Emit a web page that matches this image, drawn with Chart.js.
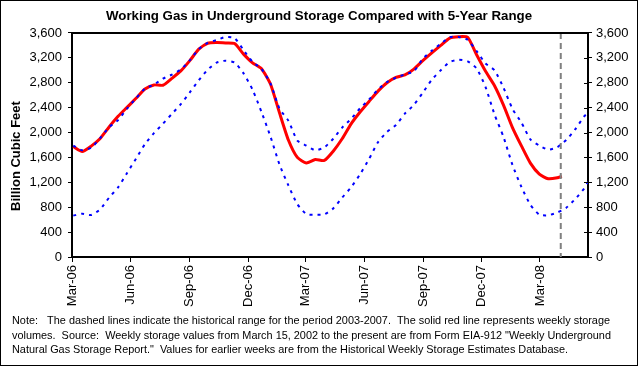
<!DOCTYPE html>
<html>
<head>
<meta charset="utf-8">
<script src="https://cdn.jsdelivr.net/npm/chart.js@4.4.1/dist/chart.umd.min.js"></script>
<style>
  html, body { margin: 0; padding: 0; background: #fff; }
  #wrap { width: 638px; height: 366px; }
</style>
</head>
<body>
<div id="wrap"><canvas id="gasChart" width="638" height="366"></canvas></div>
<script>
// report weeks (every other week, plus the last weeks of the range)
const weekDates = [
  '2006-03-03','2006-03-17','2006-03-31','2006-04-14','2006-04-28','2006-05-12','2006-05-26','2006-06-09','2006-06-23','2006-07-07',
  '2006-07-21','2006-08-04','2006-08-18','2006-09-01','2006-09-15','2006-09-29','2006-10-13','2006-10-27','2006-11-10','2006-11-24',
  '2006-12-08','2006-12-22','2007-01-05','2007-01-19','2007-02-02','2007-02-16','2007-03-02','2007-03-16','2007-03-30','2007-04-13',
  '2007-04-27','2007-05-11','2007-05-25','2007-06-08','2007-06-22','2007-07-06','2007-07-20','2007-08-03','2007-08-17','2007-08-31',
  '2007-09-14','2007-09-28','2007-10-12','2007-10-26','2007-11-09','2007-11-23','2007-12-07','2007-12-21','2008-01-04','2008-01-18',
  '2008-02-01','2008-02-15','2008-02-29','2008-03-14','2008-03-28','2008-04-04','2008-04-11','2008-04-25','2008-05-09','2008-05-15'
];

// working gas, billion cubic feet
const storage = [
  1775,1695,1782,1905,2090,2260,2405,2550,2700,2765,
  2760,2870,2990,3155,3340,3435,3445,3440,3430,3260,
  3120,3025,2780,2320,1880,1600,1512,1565,1551,1700,
  1900,2140,2330,2500,2665,2800,2885,2925,3020,3155,
  3280,3400,3518,3540,3530,3250,2985,2752,2440,2080,
  1785,1508,1331,1257,1273,1300
];

// 5-year range 2003-2007
const rangeHigh = [
  1790,1715,1755,1910,2085,2200,2385,2550,2705,2770,
  2865,2930,3015,3160,3340,3440,3487,3536,3516,3325,
  3135,3020,2790,2385,2190,1870,1790,1715,1760,1900,
  2080,2220,2390,2530,2690,2810,2880,2935,2985,3185,
  3315,3425,3530,3536,3490,3310,3110,3000,2720,2380,
  2160,1890,1790,1725,1765,1820,1880,2050,2260,2310
];
const rangeLow = [
  665,695,675,765,955,1120,1350,1580,1815,1990,
  2140,2300,2455,2645,2840,3010,3125,3155,3125,2950,
  2690,2330,1935,1490,1150,850,690,680,685,780,
  955,1120,1330,1575,1845,2010,2120,2305,2445,2640,
  2850,3000,3135,3170,3145,3030,2730,2290,1930,1480,
  1125,840,680,670,715,750,790,930,1100,1210
];

const tickDates = ['2006-03-01','2006-06-01','2006-09-01','2006-12-01','2007-03-01','2007-06-01','2007-09-01','2007-12-01','2008-03-01'];
const tickLabels = ['Mar-06','Jun-06','Sep-06','Dec-06','Mar-07','Jun-07','Sep-07','Dec-07','Mar-08'];
const axisStart = '2006-03-01';
const axisEnd = '2008-05-15';

const chartTitle = 'Working Gas in Underground Storage Compared with 5-Year Range';
const yTitle = 'Billion Cubic Feet';
const noteLines = [
  'Note:   The dashed lines indicate the historical range for the period 2003-2007.  The solid red line represents weekly storage',
  'volumes.  Source:  Weekly storage values from March 15, 2002 to the present are from Form EIA-912 "Weekly Underground',
  'Natural Gas Storage Report."  Values for earlier weeks are from the Historical Weekly Storage Estimates Database.'
];

const FONT = '"Liberation Sans", Arial, sans-serif';

function dayOf(s) {
  const a = s.split('-').map(Number), b = axisStart.split('-').map(Number);
  return (Date.UTC(a[0], a[1] - 1, a[2]) - Date.UTC(b[0], b[1] - 1, b[2])) / 86400000;
}
function pts(vals) {
  return vals.map((v, i) => ({ x: dayOf(weekDates[i]), y: v }));
}

const decor = {
  id: 'decor',
  afterDatasetsDraw(chart) {
    const ctx = chart.ctx, a = chart.chartArea;
    // marker for the latest report week
    const xp = chart.scales.x.getPixelForValue(dayOf(weekDates[storage.length - 1])) - 1;
    ctx.save();
    ctx.strokeStyle = '#808080';
    ctx.lineWidth = 2;
    ctx.setLineDash([6, 4]);
    ctx.beginPath();
    ctx.moveTo(xp, a.top);
    ctx.lineTo(xp, a.bottom);
    ctx.stroke();
    ctx.restore();
  },
  afterDraw(chart) {
    const ctx = chart.ctx, a = chart.chartArea;
    ctx.save();
    ctx.strokeStyle = '#000';
    ctx.lineWidth = 2;
    ctx.beginPath();
    ctx.moveTo(a.left - 1, a.top);
    ctx.lineTo(a.right + 1, a.top);
    ctx.stroke();

    // right axis ticks cross the axis line
    ctx.lineWidth = 1;
    chart.scales.y2.ticks.forEach(t => {
      const yp = Math.round(chart.scales.y2.getPixelForValue(t.value)) + 0.5;
      if (yp < a.top + 2 || yp > a.bottom - 2) return;
      ctx.beginPath();
      ctx.moveTo(a.right - 4, yp);
      ctx.lineTo(a.right, yp);
      ctx.stroke();
    });

    // y axis title
    ctx.fillStyle = '#000';
    ctx.font = 'bold 13px ' + FONT;
    ctx.textAlign = 'center';
    ctx.textBaseline = 'middle';
    ctx.translate(16, 156);
    ctx.rotate(-Math.PI / 2);
    ctx.fillText(yTitle, 0, 0);
    ctx.restore();

    // note under the chart
    ctx.save();
    ctx.fillStyle = '#000';
    ctx.font = '11px ' + FONT;
    ctx.textAlign = 'left';
    ctx.textBaseline = 'middle';
    const sx = 598 / ctx.measureText(noteLines[0]).width;
    ctx.translate(12, 0);
    ctx.scale(sx, 1);
    noteLines.forEach((t, i) => ctx.fillText(t, 0, 321 + i * 14.5));
    ctx.restore();

    // outer frame
    ctx.save();
    ctx.strokeStyle = '#000';
    ctx.lineWidth = 1;
    ctx.strokeRect(0.5, 0.5, chart.width - 1, chart.height - 1);
    ctx.restore();
  }
};

const tickFont = { family: FONT, size: 13 };

new Chart(document.getElementById('gasChart'), {
  type: 'line',
  data: {
    datasets: [
      { label: 'Storage', data: pts(storage), borderColor: '#ff0000', borderWidth: 3,
        pointRadius: 0, tension: 0.2, order: 2 },
      { label: '5-Year High', data: pts(rangeHigh), borderColor: '#0000ff', borderWidth: 2,
        borderDash: [3, 5], pointRadius: 0, tension: 0.2, order: 1 },
      { label: '5-Year Low', data: pts(rangeLow), borderColor: '#0000ff', borderWidth: 2,
        borderDash: [3, 5], pointRadius: 0, tension: 0.2, order: 1 }
    ]
  },
  options: {
    responsive: false,
    animation: false,
    events: [],
    layout: { padding: { left: 0, right: 0, top: 0, bottom: 59 } },
    plugins: {
      legend: { display: false },
      tooltip: { enabled: false },
      title: {
        display: true, text: chartTitle, color: '#000',
        font: { family: FONT, size: 13.3, weight: 'bold' },
        padding: { top: 8, bottom: 9 }
      }
    },
    scales: {
      x: {
        type: 'linear', min: 0, max: dayOf(axisEnd),
        afterBuildTicks: s => { s.ticks = tickDates.map(d => ({ value: dayOf(d) })); },
        afterFit: s => { s.height = 50; },
        ticks: { autoSkip: false, minRotation: 90, maxRotation: 90, padding: 3, color: '#000',
          font: tickFont, callback: (v, i) => tickLabels[i] },
        grid: { drawOnChartArea: false, tickLength: 5, color: '#000' },
        border: { color: '#000', width: 2 }
      },
      y: {
        position: 'left', min: 0, max: 3600,
        afterFit: s => { s.width = 72; },
        ticks: { stepSize: 400, padding: 6, color: '#000', font: tickFont },
        grid: { drawOnChartArea: false, tickLength: 4, color: '#000' },
        border: { color: '#000', width: 2 }
      },
      y2: {
        position: 'right', min: 0, max: 3600,
        afterFit: s => { s.width = 50; },
        ticks: { stepSize: 400, padding: 4, color: '#000', font: tickFont },
        grid: { drawOnChartArea: false, tickLength: 4, color: '#000' },
        border: { color: '#000', width: 2 }
      }
    }
  },
  plugins: [decor]
});
</script>
</body>
</html>
